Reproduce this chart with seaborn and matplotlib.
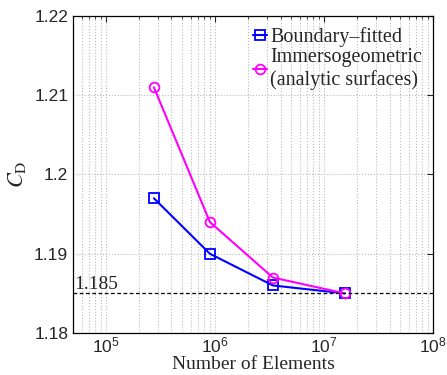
import matplotlib
matplotlib.use("Agg")
import matplotlib.pyplot as plt
import seaborn as sns
import pandas as pd
import numpy as np
from matplotlib.ticker import LogLocator, NullFormatter

elements = [2.76e5, 9.0e5, 3.4e6, 1.55e7]
cd_boundary = [1.197, 1.190, 1.186, 1.185]
cd_immerso = [1.211, 1.194, 1.187, 1.185]
ref_value = 1.185
series_names = ["Boundary\u2013fitted", "Immersogeometric\n(analytic surfaces)"]

df = pd.DataFrame({
    "Elements": elements * 2,
    "CD": cd_boundary + cd_immerso,
    "Method": [series_names[0]] * 4 + [series_names[1]] * 4,
})

sns.set_style("white")
plt.rcParams['font.family'] = ['Liberation Sans', 'DejaVu Sans']
plt.rcParams['mathtext.fontset'] = 'stix'

fig = plt.figure(figsize=(4.47, 3.75), dpi=100)
ax = fig.add_axes([73/447, 1 - 333/375, (433-73)/447, (333-16)/375])

sns.lineplot(data=df, x="Elements", y="CD", hue="Method", style="Method",
             palette={series_names[0]: "#0000ff", series_names[1]: "#ff00ff"},
             markers={series_names[0]: "s", series_names[1]: "o"},
             dashes=False, markersize=7, markerfacecolor="none",
             markeredgewidth=1.3, linewidth=1.5, ax=ax)
for line in ax.lines:
    line.set_markerfacecolor("none")
    line.set_markeredgecolor(line.get_color())

ax.axhline(ref_value, color="black", linestyle=(0, (3, 2)), linewidth=0.9)
ax.text(5.1e4, ref_value + 0.0001, "1.185", family="Liberation Serif", fontsize=14,
        va="bottom", ha="left")

ax.set_xscale("log")
ax.set_xlim(5e4, 1e8)
ax.set_ylim(1.18, 1.22)
ax.set_yticks([1.18, 1.19, 1.20, 1.21, 1.22])
ax.set_yticklabels(["1.18", "1.19", "1.2", "1.21", "1.22"])
ax.xaxis.set_major_locator(LogLocator(base=10, numticks=10))
ax.xaxis.set_minor_locator(LogLocator(base=10, subs=np.arange(2, 10), numticks=20))
ax.xaxis.set_minor_formatter(NullFormatter())

ax.grid(True, which="major", axis="both", color="#bbbbbb", linestyle=":", linewidth=0.8)
ax.grid(True, which="minor", axis="x", color="#bbbbbb", linestyle=":", linewidth=0.8)

ax.tick_params(which="both", direction="in", top=True, right=True, labelsize=12.5)
ax.tick_params(axis="x", which="major", pad=2)
ax.tick_params(which="major", length=4, width=0.8)
ax.tick_params(which="minor", length=2, width=0.6)
for s in ax.spines.values():
    s.set_color("black")
    s.set_linewidth(0.9)

ax.set_xlabel("Number of Elements", family="Liberation Serif", fontsize=14, labelpad=0)
ax.set_ylabel(r"$C_\mathrm{D}$", fontsize=16, labelpad=4)

leg = ax.legend(loc="upper right", frameon=False, handlelength=0.7, handletextpad=0.15,
                borderaxespad=0.15, labelspacing=0.05,
                prop={"family": "Liberation Serif", "size": 14.5})
for h in leg.legend_handles:
    h.set_markerfacecolor("none")

fig.savefig("out.png", dpi=100)
